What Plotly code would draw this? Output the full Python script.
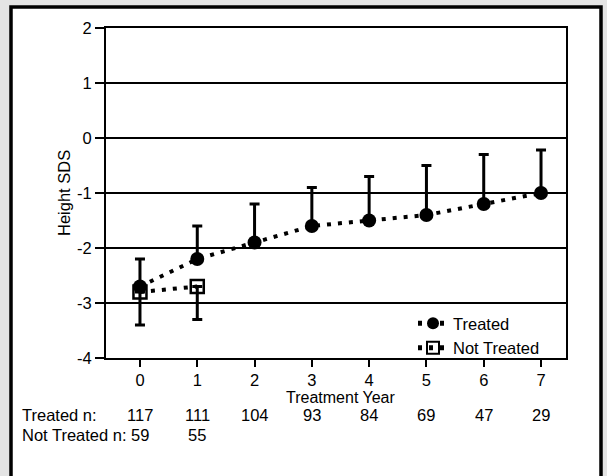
import plotly.graph_objects as go

years = [0, 1, 2, 3, 4, 5, 6, 7]
treated_mean = [-2.7, -2.2, -1.9, -1.6, -1.5, -1.4, -1.2, -1.0]
treated_upper = [-2.2, -1.6, -1.2, -0.9, -0.7, -0.5, -0.3, -0.22]
not_years = [0, 1]
not_mean = [-2.8, -2.7]
not_lower = [-3.4, -3.3]
treated_n = [117, 111, 104, 93, 84, 69, 47, 29]
not_n = [59, 55]
ytick_vals = [2, 1, 0, -1, -2, -3, -4]
ytick_text = ["2", "1", "0", "-1", "-2", "-3", "-4"]

FONT = "Liberation Sans, Arial, Helvetica, sans-serif"

fig = go.Figure()

fig.add_trace(go.Scatter(
    x=not_years, y=not_mean, name="Not Treated", mode="lines+markers",
    line=dict(color="black", width=4, dash="4px,7px"),
    marker=dict(symbol="square-open", size=13, color="black", line=dict(width=2.5, color="black")),
    error_y=dict(type="data", symmetric=False,
                 array=[0 for _ in not_mean],
                 arrayminus=[m - l for m, l in zip(not_mean, not_lower)],
                 color="black", thickness=3, width=5),
))
fig.add_trace(go.Scatter(
    x=years, y=treated_mean, name="Treated", mode="lines+markers",
    line=dict(color="black", width=4, dash="4px,7px"),
    marker=dict(symbol="circle", size=14, color="black"),
    error_y=dict(type="data", symmetric=False,
                 array=[u - m for u, m in zip(treated_upper, treated_mean)],
                 arrayminus=[0 for _ in treated_mean],
                 color="black", thickness=3, width=5),
))

L, R, T, B = 106, 41, 28, 118
W, H = 607, 476
pw, ph = W - L - R, H - T - B

def px(x):
    return (x - L) / pw

def py(y):
    return (H - B - y) / ph

shapes = [dict(type="rect", xref="paper", yref="paper", layer="below",
               x0=px(11), x1=px(601), y0=py(490), y1=py(7),
               line=dict(color="black", width=3.5), fillcolor="white")]

FS = 16.5
annotations = []
annotations.append(dict(text="Height SDS", xref="paper", yref="paper", x=px(64), y=0.5,
                        textangle=-90, showarrow=False, xanchor="center", yanchor="middle",
                        font=dict(size=FS, color="black", family=FONT)))
annotations.append(dict(text="Treatment Year", xref="x", yref="paper", x=3.5, y=py(398),
                        showarrow=False, xanchor="center", yanchor="middle",
                        font=dict(size=16, color="black", family=FONT)))
annotations.append(dict(text="Treated n:", xref="paper", yref="paper", x=px(20), y=py(415),
                        showarrow=False, xanchor="left", yanchor="middle",
                        font=dict(size=FS, color="black", family=FONT)))
annotations.append(dict(text="Not Treated n:", xref="paper", yref="paper", x=px(20), y=py(435),
                        showarrow=False, xanchor="left", yanchor="middle",
                        font=dict(size=FS, color="black", family=FONT)))
for yr, n in zip(years, treated_n):
    annotations.append(dict(text=str(n), xref="x", yref="paper", x=yr, y=py(415),
                            showarrow=False, xanchor="center", yanchor="middle",
                            font=dict(size=FS, color="black", family=FONT)))
for yr, n in zip(not_years, not_n):
    annotations.append(dict(text=str(n), xref="x", yref="paper", x=yr, y=py(435),
                            showarrow=False, xanchor="center", yanchor="middle",
                            font=dict(size=FS, color="black", family=FONT)))

fig.update_layout(
    width=W, height=H,
    margin=dict(l=L, r=R, t=T, b=B),
    paper_bgcolor="#e4e4e4", plot_bgcolor="white",
    font=dict(family=FONT, size=FS, color="black"),
    shapes=shapes, annotations=annotations,
    showlegend=True,
    legend=dict(x=px(413), y=py(306), xanchor="left", yanchor="top",
                bgcolor="rgba(0,0,0,0)", traceorder="reversed",
                font=dict(size=FS, family=FONT, color="black"),
                tracegroupgap=0, itemsizing="constant"),
    xaxis=dict(range=[-0.593, 7.436], tickvals=years, ticks="outside", ticklen=7,
               tickwidth=2, tickcolor="black", showgrid=False, zeroline=False,
               showline=True, linecolor="black", linewidth=2, mirror=True,
               ticklabelstandoff=-1,
               tickfont=dict(size=FS, family=FONT, color="black")),
    yaxis=dict(range=[-4, 2], tickvals=ytick_vals, ticktext=ytick_text, ticks="outside",
               ticklen=9, tickwidth=2, tickcolor="black", showgrid=True,
               gridcolor="black", gridwidth=2, zeroline=False,
               showline=True, linecolor="black", linewidth=2, mirror=True,
               tickfont=dict(size=FS, family=FONT, color="black")),
)

fig.write_html("out.html", config={"displayModeBar": False},
               post_script="document.body.style.margin='0';document.body.style.overflow='hidden';")
